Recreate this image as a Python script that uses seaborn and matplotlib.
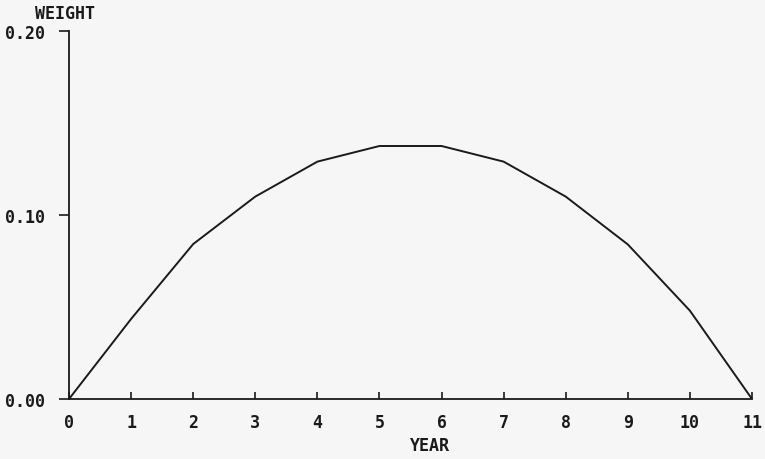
import pandas as pd
import numpy as np
import matplotlib.pyplot as plt
import seaborn as sns

years = [0, 1, 2, 3, 4, 5, 6, 7, 8, 9, 10, 11]
weights = [0.0, 0.0435, 0.0842, 0.110, 0.129, 0.1375, 0.1375, 0.129, 0.110, 0.084, 0.048, 0.0]
ytick_vals = [0.0, 0.1, 0.2]
ytick_labels = ['0.00', '0.10', '0.20']

sns.set_style('ticks')
plt.rcParams['font.family'] = ['DejaVu Sans Mono']
plt.rcParams['font.weight'] = 'bold'

df = pd.DataFrame({'year': years, 'weight': weights})

fig = plt.figure(figsize=(7.65, 4.6), dpi=100, facecolor='#f6f6f6')
ax = fig.add_axes([69 / 765, 1 - 400 / 460, (752 - 69) / 765, (400 - 32) / 460])
ax.set_facecolor('#f6f6f6')

sns.lineplot(data=df, x='year', y='weight', color='#1a1a1a', linewidth=1.4, ax=ax)

ax.set_xlim(0, 11)
ax.set_ylim(0, 0.2)
ax.set_xticks(years)
ax.set_xticklabels([str(y) for y in years], fontsize=12, fontweight='bold')
ax.set_yticks(ytick_vals)
ax.set_yticklabels(ytick_labels, fontsize=12, fontweight='bold')
ax.tick_params(axis='x', direction='in', length=5, width=1.2, pad=10, colors='#1a1a1a')
ax.tick_params(axis='y', direction='out', length=7, width=1.2, pad=10, colors='#1a1a1a')
for side in ['top', 'right']:
    ax.spines[side].set_visible(False)
for side in ['left', 'bottom']:
    ax.spines[side].set_linewidth(1.3)
    ax.spines[side].set_color('#1a1a1a')

ax.set_xlabel('')
ax.set_ylabel('')
fig.text(35 / 765, 1 - 14 / 460, 'WEIGHT', fontsize=12, fontweight='bold',
         ha='left', va='center', color='#1a1a1a')
fig.text(430 / 765, 1 - 446 / 460, 'YEAR', fontsize=12, fontweight='bold',
         ha='center', va='center', color='#1a1a1a')

fig.savefig('out.png', dpi=100, facecolor=fig.get_facecolor())
